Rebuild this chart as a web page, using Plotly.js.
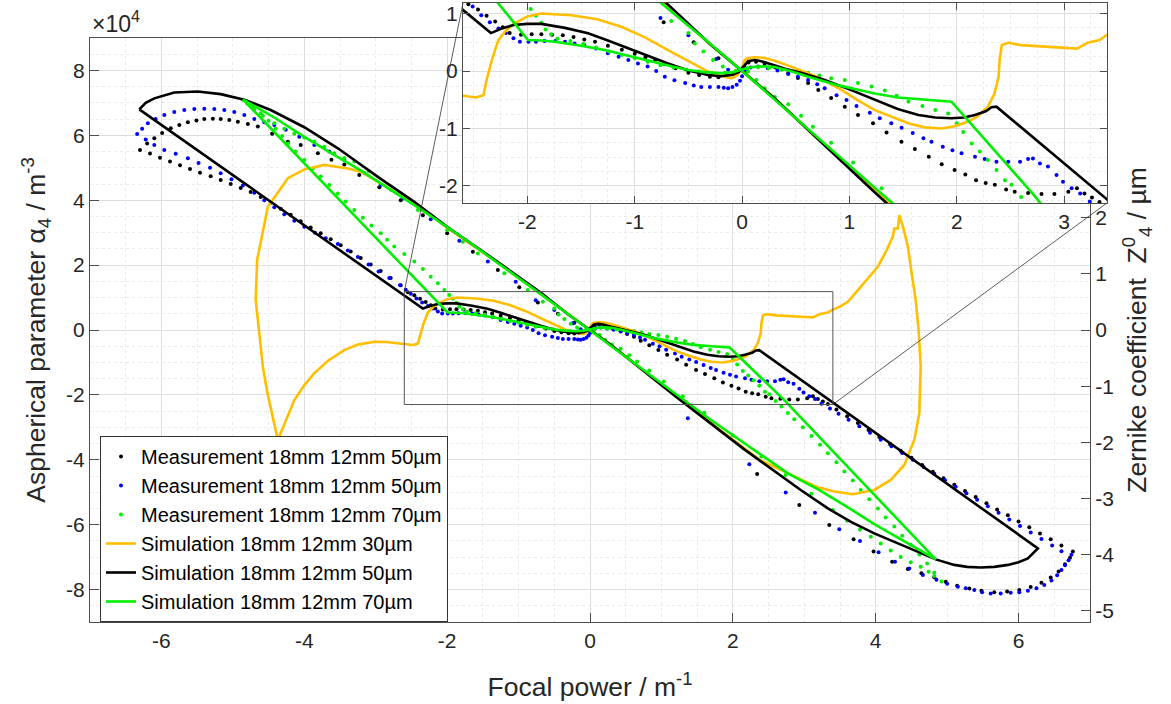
<!DOCTYPE html>
<html>
<head>
<meta charset="utf-8">
<script src="https://cdn.plot.ly/plotly-3.0.1.min.js"></script>
<style>html,body{margin:0;padding:0;background:#fff;}#chart{width:1171px;height:704px;}</style>
</head>
<body>
<div id="chart"></div>
<script>
// ---------------- data (x: focal power / m^-1, y: alpha4 in units of 1e4 m^-3) ----------------
const seriesNames = [
  "Measurement 18mm 12mm 50µm",
  "Measurement 18mm 12mm 50µm",
  "Measurement 18mm 12mm 70µm",
  "Simulation 18mm 12mm 30µm",
  "Simulation 18mm 12mm 50µm",
  "Simulation 18mm 12mm 70µm"
];

const measBlack = [
[-6.30,5.55],[-6.16,5.44],[-6.02,5.31],[-5.88,5.19],[-5.74,5.08],[-5.60,4.96],[-5.46,4.85],[-5.31,4.74],[-5.17,4.62],[-5.03,4.50],[-4.89,4.38],[-4.75,4.25],[-4.61,4.10],[-4.47,3.92],[-4.33,3.74],[-4.19,3.55],[-4.05,3.35],[-3.91,3.16],[-3.77,2.98],[-3.63,2.80],[-3.49,2.61],[-3.35,2.42],[-3.21,2.22],[-3.07,2.02],[-2.93,1.82],[-2.79,1.60],[-2.65,1.38],[-2.55,1.16],[-2.46,1.07],[-2.38,0.96],[-2.30,0.86],[-2.23,0.76],[-2.165,0.66],[-2.06,0.63],
[-1.96,0.64],[-1.87,0.64],[-1.77,0.63],[-1.67,0.62],[-1.57,0.59],[-1.47,0.55],[-1.37,0.51],[-1.25,0.44],[-1.12,0.37],[-1.00,0.30],[-0.90,0.24],[-0.81,0.19],[-0.72,0.12],[-0.62,0.05],[-0.50,-0.03],[-0.40,-0.07],[-0.30,-0.10],[-0.22,-0.11],[-0.15,-0.09],[-0.08,-0.05],[-0.03,0.01],[0.02,0.09],[0.06,0.15],[0.13,0.16],[0.21,0.13],[0.31,0.06],[0.43,-0.04],[0.52,-0.12],[0.615,-0.21],[0.71,-0.33],[0.83,-0.47],[0.957,-0.62],[1.08,-0.765],[1.22,-0.91],[1.346,-1.07],[1.485,-1.23],[1.61,-1.356],[1.74,-1.49],[1.86,-1.62],[1.98,-1.72],[2.08,-1.80],[2.18,-1.90],[2.27,-1.95],[2.355,-1.98],[2.46,-2.06],[2.54,-2.10],[2.665,-2.12],[2.79,-2.14],[2.91,-2.14],[3.04,-2.10],[3.12,-2.04],[3.19,-2.13],[3.26,-2.20],[3.33,-2.28],
[3.45,-2.45],[3.60,-2.66],[3.75,-2.87],[3.90,-3.08],[4.05,-3.30],[4.20,-3.51],[4.35,-3.72],[4.50,-3.94],[4.65,-4.16],[4.80,-4.37],[4.95,-4.57],[5.10,-4.77],[5.25,-4.96],[5.40,-5.15],[5.55,-5.34],[5.70,-5.53],[5.85,-5.71],[6.00,-5.90],[6.15,-6.08],[6.30,-6.27],[6.45,-6.45],[6.60,-6.64],[6.76,-6.83],
[6.72,-7.02],[6.65,-7.22],[6.56,-7.44],[6.45,-7.63],[6.32,-7.79],[6.17,-7.92],[6.01,-8.01],[5.84,-8.06],[5.66,-8.08],[5.48,-8.04],[5.31,-7.97],[5.14,-7.88],[4.98,-7.76],[4.82,-7.62],[4.64,-7.50],[4.45,-7.37],[4.23,-7.14],[3.97,-6.83],[3.69,-6.45],[3.35,-6.01],[2.93,-5.39],[2.34,-4.44],
[-6.20,5.75],[-6.10,5.91],[-5.99,6.07],[-5.87,6.22],[-5.75,6.32],[-5.63,6.40],[-5.51,6.46],[-5.40,6.50],[-5.28,6.51],[-5.17,6.50],[-5.05,6.47],[-4.93,6.42],[-4.79,6.35],[-4.65,6.27],[-4.45,6.05],[-4.23,5.80],[-4.05,5.70],[-3.81,5.45],[-3.62,5.25],[-3.44,5.10],[-3.23,4.78],[-2.95,4.40],[-2.65,4.00],[-2.34,3.54],[-2.00,2.98],[-1.64,2.41],[-1.29,1.85],[-0.99,1.32],[-0.73,0.85],[-0.45,0.50],[-0.22,0.22]
];

const measBlue = [
[-6.34,6.04],[-6.22,5.87],[-6.10,5.70],[-5.96,5.55],[-5.80,5.43],[-5.63,5.29],[-5.48,5.15],[-5.32,5.00],[-5.17,4.83],[-5.02,4.65],[-4.86,4.45],[-4.70,4.23],[-4.56,4.00],[-4.42,3.78],[-4.28,3.57],[-4.14,3.37],[-4.00,3.18],[-3.85,3.00],[-3.70,2.83],[-3.53,2.65],[-3.39,2.45],[-3.25,2.25],[-3.10,2.02],[-2.96,1.80],[-2.81,1.60],[-2.66,1.38],[-2.58,1.24],[-2.51,1.12],[-2.43,0.97],[-2.35,0.85],[-2.27,0.74],[-2.20,0.66],[-2.13,0.57],[-2.07,0.51],
[-1.99,0.51],[-1.92,0.51],[-1.84,0.52],[-1.74,0.52],[-1.65,0.51],[-1.56,0.48],[-1.47,0.45],[-1.36,0.39],[-1.25,0.31],[-1.15,0.25],[-1.06,0.19],[-0.97,0.13],[-0.88,0.08],[-0.80,0.00],[-0.72,-0.10],[-0.63,-0.16],[-0.53,-0.21],[-0.45,-0.25],[-0.38,-0.28],[-0.30,-0.28],[-0.22,-0.28],[-0.17,-0.29],[-0.13,-0.30],[-0.09,-0.28],[-0.05,-0.24],[-0.02,-0.17],[0.00,-0.09],[0.03,0.00],[0.08,0.06],[0.15,0.08],[0.24,0.05],[0.33,0.01],[0.43,-0.05],[0.52,-0.10],[0.615,-0.157],[0.70,-0.23],[0.77,-0.30],[0.88,-0.42],[0.973,-0.504],[1.066,-0.61],[1.19,-0.725],[1.283,-0.823],[1.39,-0.91],[1.486,-0.986],[1.59,-1.08],[1.69,-1.17],[1.765,-1.23],[1.87,-1.316],[1.96,-1.38],[2.045,-1.43],[2.17,-1.49],[2.26,-1.53],[2.37,-1.58],[2.48,-1.58],[2.59,-1.58],[2.665,-1.53],[2.71,-1.52],[2.775,-1.61],[2.85,-1.66],[2.93,-1.81],[2.99,-1.925],[3.07,-2.04],[3.15,-2.13],[3.24,-2.27],
[3.36,-2.42],[3.48,-2.58],[3.62,-2.77],[3.77,-2.97],[3.92,-3.17],[4.07,-3.38],[4.22,-3.58],[4.37,-3.79],[4.52,-4.00],[4.67,-4.22],[4.82,-4.43],[4.97,-4.63],[5.12,-4.83],[5.27,-5.03],[5.42,-5.23],[5.57,-5.43],[5.72,-5.63],[5.87,-5.84],[6.02,-6.04],[6.17,-6.24],[6.32,-6.44],[6.47,-6.64],[6.60,-6.82],[6.74,-6.93],
[6.70,-7.10],[6.65,-7.25],[6.60,-7.40],[6.54,-7.56],[6.46,-7.72],[6.36,-7.86],[6.25,-7.96],[6.13,-8.04],[6.01,-8.08],[5.89,-8.10],[5.75,-8.12],[5.61,-8.12],[5.49,-8.08],[5.38,-8.01],[5.26,-7.96],[5.15,-7.91],[5.00,-7.82],[4.85,-7.70],[4.66,-7.55],[4.47,-7.35],[4.27,-7.14],[4.04,-6.85],[3.78,-6.50],[3.49,-6.14],[3.15,-5.63],[2.74,-5.01],[2.23,-4.14],[1.37,-2.72],
[-6.27,6.20],[-6.19,6.37],[-6.08,6.50],[-5.96,6.63],[-5.82,6.72],[-5.68,6.78],[-5.54,6.81],[-5.40,6.82],[-5.26,6.81],[-5.12,6.78],[-4.98,6.72],[-4.84,6.63],[-4.70,6.50],[-4.56,6.40],[-4.42,6.32],[-4.26,6.17],[-4.07,5.96],[-3.86,5.70],[-3.65,5.50],[-3.44,5.24],[-3.16,4.83],[-2.93,4.47],[-2.62,4.05],[-2.37,3.75],[-2.23,3.41],[-1.83,2.75],[-1.43,2.11],[-1.04,1.49],[-0.76,0.92],[-0.50,0.62],[-0.24,0.21],[-0.13,0.02]
];

const measGreen = [
[-4.86,7.10],[-4.78,6.95],[-4.70,6.80],[-4.58,6.60],[-4.42,6.37],[-4.28,6.20],[-4.14,6.05],[-4.00,5.93],[-3.86,5.81],[-3.72,5.65],[-3.58,5.45],[-3.44,5.30],[-3.30,5.19],[-3.10,4.90],[-2.79,4.32],[-2.41,3.70],[-2.00,3.08],[-1.78,2.72],[-1.57,2.36],[-1.20,1.75],[-0.87,1.23],[-0.66,0.87],[-0.50,0.66],[-0.44,0.48],[-0.36,0.34],[-0.27,0.19],[-0.18,0.08],
[-4.80,6.98],[-4.72,6.84],[-4.61,6.68],[-4.50,6.45],[-4.40,6.20],[-4.31,5.98],[-4.23,5.75],[-4.12,5.50],[-4.00,5.24],[-3.88,4.98],[-3.77,4.73],[-3.65,4.47],[-3.53,4.21],[-3.42,3.96],[-3.30,3.70],[-3.18,3.46],[-3.06,3.22],[-2.93,2.98],[-2.84,2.78],[-2.74,2.57],[-2.60,2.34],[-2.46,2.11],[-2.34,1.88],[-2.23,1.64],[-2.13,1.44],[-2.04,1.23],[-1.97,1.08],[-1.92,0.96],[-1.87,0.84],[-1.83,0.72],[-1.78,0.64],[-1.72,0.56],
[-1.60,0.52],[-1.48,0.47],[-1.36,0.41],[-1.24,0.34],[-1.12,0.28],[-1.00,0.22],[-0.88,0.16],[-0.76,0.10],[-0.64,0.06],[-0.52,0.02],[-0.40,-0.01],[-0.28,-0.03],[-0.16,-0.03],[-0.06,0.00],[0.05,0.05],[0.15,0.07],[0.25,0.05],[0.37,0.02],[0.49,-0.01],[0.615,-0.03],[0.72,-0.08],[0.83,-0.127],[0.957,-0.157],[1.08,-0.21],[1.206,-0.27],[1.33,-0.34],[1.44,-0.43],[1.55,-0.53],[1.68,-0.61],[1.80,-0.68],[1.92,-0.74],
[2.00,-0.91],[2.06,-1.06],[2.14,-1.26],[2.215,-1.40],[2.29,-1.55],[2.37,-1.72],[2.45,-1.90],[2.51,-1.98],[2.60,-2.19],[2.68,-2.36],[2.77,-2.56],[2.86,-2.75],[2.98,-3.00],[3.10,-3.27],[3.22,-3.54],[3.33,-3.80],[3.45,-4.08],[3.56,-4.36],[3.68,-4.64],[3.79,-4.93],[3.91,-5.22],[4.03,-5.50],[4.14,-5.78],[4.26,-6.06],[4.37,-6.34],[4.49,-6.62],[4.61,-6.92],[4.72,-7.20],[4.82,-7.48],[4.92,-7.75],
[4.82,-7.58],[4.74,-7.45],[4.63,-7.30],[4.49,-7.16],[4.35,-7.00],[4.21,-6.80],[4.07,-6.58],[3.93,-6.37],[3.78,-6.15],[3.60,-5.88],[3.40,-5.55],[3.10,-5.05],[2.74,-4.47],[2.40,-3.90],[2.00,-3.25],[1.60,-2.55],[1.30,-2.04],[1.035,-1.59],[0.83,-1.25],[0.66,-0.97],[0.55,-0.78],[0.43,-0.58],[0.305,-0.45],[0.21,-0.30],[0.134,-0.157],[0.056,-0.01]
];

const simYellow = [
[0,0],[0.30,-0.47],[0.70,-1.17],[1.23,-2.08],[1.80,-3.05],[2.39,-4.02],[2.72,-4.37],[3.19,-4.85],[3.42,-4.98],[3.68,-5.06],[3.98,-4.93],[4.21,-4.62],[4.40,-4.16],[4.54,-3.39],[4.61,-2.57],[4.63,-1.13],[4.60,0.00],[4.56,0.92],[4.50,1.80],[4.45,2.57],[4.38,3.20],[4.33,3.54],[4.31,3.13],[4.26,3.13],[4.24,2.88],[4.15,2.45],[4.03,1.95],[3.88,1.55],[3.75,1.23],[3.61,0.87],[3.50,0.72],[3.40,0.63],[3.33,0.54],[3.22,0.49],[3.12,0.39],[2.95,0.41],[2.79,0.42],[2.60,0.45],[2.48,0.49],[2.42,0.45],[2.40,0.20],[2.39,-0.10],[2.35,-0.40],[2.29,-0.62],[2.20,-0.78],[2.11,-0.88],[1.98,-0.96],[1.86,-1.00],[1.70,-0.98],[1.55,-0.91],[1.40,-0.80],[1.237,-0.68],[1.08,-0.51],[0.926,-0.33],[0.77,-0.17],[0.615,-0.04],[0.45,0.08],[0.305,0.18],[0.20,0.23],[0.118,0.24],[0.05,0.22],[0.025,0.19],[0,0.05],[-0.05,-0.08],[-0.10,-0.127],[-0.20,-0.08],[-0.317,-0.01],[-0.50,0.17],[-0.69,0.365],[-0.90,0.58],[-1.124,0.77],[-1.35,0.90],[-1.59,0.97],[-1.87,1.00],[-2.00,0.95],[-2.12,0.83],[-2.20,0.70],[-2.27,0.54],[-2.33,0.20],[-2.38,-0.157],[-2.41,-0.42],[-2.48,-0.46],[-2.65,-0.42],[-2.85,-0.37],[-3.02,-0.36],[-3.25,-0.45],[-3.44,-0.62],[-3.65,-0.92],[-3.86,-1.33],[-4.00,-1.70],[-4.14,-2.16],[-4.25,-2.75],[-4.37,-3.39],[-4.45,-2.60],[-4.52,-1.90],[-4.58,-1.13],[-4.64,0.00],[-4.68,0.92],[-4.66,2.16],[-4.51,3.80],[-4.23,4.68],[-4.00,4.95],[-3.72,5.09],[-3.39,4.98],[-3.21,4.88],[-2.93,4.52],[-2.46,3.90],[-2.00,3.15],[-1.23,1.98],[-0.70,1.13],[-0.30,0.47],[0,0]
];

const simBlack = [
[-6.31,6.80],[-2.34,0.66],[-2.24,0.74],[-2.13,0.80],[-2.00,0.82],[-1.87,0.82],[-1.65,0.75],[-1.435,0.655],[-1.25,0.53],[-1.06,0.39],[-0.88,0.26],[-0.69,0.13],[-0.50,0.01],[-0.317,-0.07],[-0.20,-0.09],[-0.10,-0.07],[-0.03,-0.02],[0,0.05],[0.056,0.17],[0.12,0.19],[0.18,0.17],[0.30,0.10],[0.40,0.04],[0.55,-0.03],[0.77,-0.157],[1.00,-0.32],[1.237,-0.504],[1.45,-0.66],[1.643,-0.765],[1.80,-0.81],[1.95,-0.823],[2.07,-0.81],[2.169,-0.765],[2.27,-0.70],[2.324,-0.63],[2.37,-0.62],[6.27,-6.73],[6.20,-6.90],[6.13,-7.04],[6.00,-7.16],[5.85,-7.24],[5.66,-7.30],[5.47,-7.32],[5.28,-7.30],[5.10,-7.24],[4.84,-7.07],[4.63,-6.88],[4.30,-6.58],[3.98,-6.27],[3.66,-5.92],[3.33,-5.50],[2.95,-4.93],[2.39,-4.06],[2.16,-3.68],[1.23,-2.10],[0.686,-1.15],[0.30,-0.47],[0,0],[-0.30,0.47],[-0.686,1.15],[-1.00,1.65],[-1.50,2.42],[-2.00,3.18],[-2.46,3.95],[-2.93,4.66],[-3.21,5.10],[-3.53,5.60],[-4.00,6.25],[-4.47,6.78],[-4.84,7.10],[-5.17,7.27],[-5.49,7.35],[-5.82,7.32],[-6.10,7.14],[-6.22,7.00],[-6.31,6.80]
];

const simGreen = [
[-4.86,7.11],[-1.994,0.54],[-1.87,0.53],[-1.746,0.51],[-1.50,0.44],[-1.28,0.365],[-1.05,0.26],[-0.81,0.16],[-0.65,0.08],[-0.50,0.017],[-0.35,-0.02],[-0.19,-0.04],[-0.08,-0.02],[0,0.03],[0.10,0.07],[0.20,0.08],[0.305,0.07],[0.45,0.00],[0.615,-0.10],[0.90,-0.25],[1.237,-0.39],[1.45,-0.46],[1.70,-0.50],[1.85,-0.52],[1.951,-0.534],[2.72,-2.16],[4.84,-7.07],[4.63,-6.80],[4.30,-6.38],[3.98,-5.98],[3.60,-5.45],[3.20,-4.92],[2.77,-4.42],[2.25,-3.62],[1.70,-2.78],[1.23,-2.02],[0.70,-1.15],[0.30,-0.48],[0,0],[-0.30,0.48],[-0.70,1.12],[-1.23,1.98],[-1.70,2.72],[-2.25,3.55],[-2.77,4.30],[-3.21,4.92],[-3.60,5.42],[-4.00,5.95],[-4.42,6.55],[-4.86,7.11]
];

// axis ticks
const mainXTicks = [-6,-4,-2,0,2,4,6];
const mainYTicks = [-8,-6,-4,-2,0,2,4,6,8];
const rightYTicks = [-5,-4,-3,-2,-1,0,1,2];
const insetXTicks = [-2,-1,0,1,2,3];
const insetYTicks = [-2,-1,0,1];

// ---------------- layout geometry ----------------
const W = 1171, H = 704;
const M = {l: 90, r: 64, t: 3, b: 82};
const plotW = W - M.l - M.r, plotH = H - M.t - M.b;
const mainXDom = [0, 1000 / plotW];
const mainYDom = [0, 584 / plotH];
const insetXDom = [(463 - M.l) / plotW, 1];
const insetYDom = [(622 - 203) / plotH, 1];
const mainXRange = [-7, 7];
const mainYRange = [-9, 9];
const rightYRange = [-5.2, 5.2];
const insetXRange = [-2.6, 3.4];
const insetYRange = [-2.296, 1.183];

const FONT = "Liberation Sans, Arial, Helvetica, sans-serif";
const TXT = "#262626";
const AX = "#4d4d4d";
const GRID = "#dedede";
const MINOR = "#ebebeb";

function cols(p) { return {x: p.map(d => d[0]), y: p.map(d => d[1])}; }
function labels(v) { return v.map(t => String(t)); }

const styles = [
  {data: measBlack, mode: "markers", marker: {color: "#000000", size: 4}},
  {data: measBlue,  mode: "markers", marker: {color: "#0000ff", size: 4}},
  {data: measGreen, mode: "markers", marker: {color: "#00ee00", size: 4}},
  {data: simYellow, mode: "lines", line: {color: "#ffbf00", width: 2.6}},
  {data: simBlack,  mode: "lines", line: {color: "#000000", width: 2.6}},
  {data: simGreen,  mode: "lines", line: {color: "#00ee00", width: 2.6}}
];

const traces = [];
styles.forEach((s, i) => {
  const c = cols(s.data);
  const t = {type: "scatter", x: c.x, y: c.y, mode: s.mode, name: seriesNames[i],
             xaxis: "x", yaxis: "y", hoverinfo: "skip", showlegend: true};
  if (s.marker) t.marker = s.marker;
  if (s.line) t.line = s.line;
  traces.push(t);
});
styles.forEach((s, i) => {
  const c = cols(s.data);
  const t = {type: "scatter", x: c.x, y: c.y, mode: s.mode, name: seriesNames[i],
             xaxis: "x3", yaxis: "y3", hoverinfo: "skip", showlegend: false};
  if (s.marker) t.marker = s.marker;
  if (s.line) t.line = s.line;
  traces.push(t);
});
// empty trace to hold the right axis
traces.push({type: "scatter", x: [], y: [], xaxis: "x", yaxis: "y2", showlegend: false, hoverinfo: "skip"});

function pxMain(v) { return mainXDom[0] + (v - mainXRange[0]) / (mainXRange[1] - mainXRange[0]) * (mainXDom[1] - mainXDom[0]); }
function pyMain(v) { return mainYDom[0] + (v - mainYRange[0]) / (mainYRange[1] - mainYRange[0]) * (mainYDom[1] - mainYDom[0]); }

const tickFont = {family: FONT, size: 21, color: TXT};
const titleFont = {family: FONT, size: 26.5, color: TXT};

const layout = {
  width: W, height: H,
  margin: M,
  paper_bgcolor: "#ffffff", plot_bgcolor: "#ffffff",
  font: {family: FONT, color: TXT},
  showlegend: true,
  xaxis: {
    domain: mainXDom, range: mainXRange, anchor: "y",
    tickvals: mainXTicks, ticktext: labels(mainXTicks), ticks: "inside", ticklen: 9, tickcolor: AX, tickwidth: 1,
    showline: true, linecolor: AX, linewidth: 1, mirror: true,
    showgrid: true, gridcolor: GRID, gridwidth: 1, zeroline: false,
    minor: {dtick: 0.5, showgrid: true, gridcolor: MINOR, griddash: "dot", ticks: ""},
    tickfont: tickFont,
    title: {text: "Focal power / m<sup>-1</sup>", font: titleFont, standoff: 26}
  },
  yaxis: {
    domain: mainYDom, range: mainYRange, anchor: "x",
    tickvals: mainYTicks, ticktext: labels(mainYTicks), ticks: "inside", ticklen: 9, tickcolor: AX, tickwidth: 1,
    showline: true, linecolor: AX, linewidth: 1, mirror: false,
    showgrid: true, gridcolor: GRID, gridwidth: 1, zeroline: false,
    minor: {dtick: 0.5, showgrid: true, gridcolor: MINOR, griddash: "dot", ticks: ""},
    tickfont: tickFont,
    title: {text: "Aspherical parameter α<sub>4</sub> / m<sup>-3</sup>", font: titleFont, standoff: 12}
  },
  yaxis2: {
    overlaying: "y", side: "right", anchor: "x", range: rightYRange,
    tickvals: rightYTicks, ticktext: labels(rightYTicks), ticks: "inside", ticklen: 9, tickcolor: AX, tickwidth: 1,
    showline: true, linecolor: AX, linewidth: 1,
    showgrid: false, zeroline: false,
    tickfont: tickFont,
    title: {text: "Zernike coefficient  Z<sup>0</sup><sub>4</sub> / µm", font: titleFont, standoff: 14}
  },
  xaxis3: {
    domain: insetXDom, range: insetXRange, anchor: "y3",
    tickvals: insetXTicks, ticktext: labels(insetXTicks), ticks: "inside", ticklen: 7, tickcolor: AX, tickwidth: 1,
    showline: true, linecolor: AX, linewidth: 1, mirror: "ticks",
    showgrid: true, gridcolor: GRID, gridwidth: 1, zeroline: false,
    minor: {dtick: 0.25, showgrid: true, gridcolor: MINOR, griddash: "dot", ticks: ""},
    tickfont: tickFont
  },
  yaxis3: {
    domain: insetYDom, range: insetYRange, anchor: "x3",
    tickvals: insetYTicks, ticktext: labels(insetYTicks), ticks: "inside", ticklen: 7, tickcolor: AX, tickwidth: 1,
    showline: true, linecolor: AX, linewidth: 1, mirror: "ticks",
    showgrid: true, gridcolor: GRID, gridwidth: 1, zeroline: false,
    minor: {dtick: 0.25, showgrid: true, gridcolor: MINOR, griddash: "dot", ticks: ""},
    tickfont: tickFont
  },
  legend: {
    x: (100 - M.l) / plotW, y: (622 - 436) / plotH, xanchor: "left", yanchor: "top",
    bgcolor: "#ffffff", bordercolor: "#333333", borderwidth: 1,
    font: {family: FONT, size: 20, color: "#000000"},
    tracegroupgap: 0, itemwidth: 30
  },
  shapes: [
    {type: "rect", xref: "x", yref: "y", x0: insetXRange[0], x1: insetXRange[1], y0: insetYRange[0], y1: insetYRange[1],
     line: {color: "#555555", width: 1}, fillcolor: "rgba(0,0,0,0)", layer: "above"},
    {type: "line", xref: "paper", yref: "paper",
     x0: pxMain(insetXRange[0]), y0: pyMain(insetYRange[1]), x1: insetXDom[0], y1: insetYDom[1],
     line: {color: "#333333", width: 0.8}},
    {type: "line", xref: "paper", yref: "paper",
     x0: pxMain(insetXRange[1]), y0: pyMain(insetYRange[0]), x1: insetXDom[1], y1: insetYDom[0],
     line: {color: "#333333", width: 0.8}}
  ],
  annotations: [
    {xref: "paper", yref: "paper", x: 0, y: (622 - 22) / plotH, xanchor: "left", yanchor: "middle",
     text: "×10<sup>4</sup>", showarrow: false, font: {family: FONT, size: 23, color: TXT}}
  ]
};

Plotly.newPlot("chart", traces, layout, {staticPlot: true, displayModeBar: false});
</script>
</body>
</html>
